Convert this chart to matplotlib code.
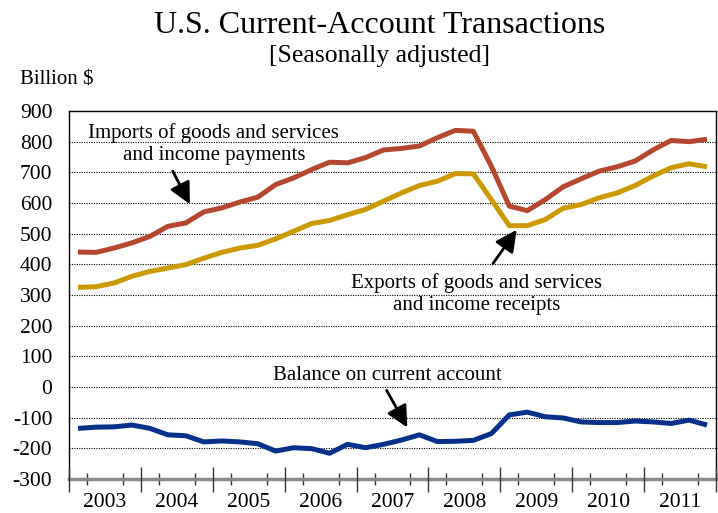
import matplotlib
matplotlib.use('Agg')
import matplotlib.pyplot as plt
import matplotlib.transforms as mtransforms

# Quarterly data, 2003 Q1 - 2011 Q4, billions of dollars
years = ['2003', '2004', '2005', '2006', '2007', '2008', '2009', '2010', '2011']
imports = [440, 439, 453, 470, 491, 524, 535, 571, 584, 603, 619, 660,
           682, 709, 733, 731, 748, 773, 778, 786, 813, 837, 834, 720,
           590, 575, 611, 653, 679, 704, 718, 737, 773, 804, 800, 808]
exports = [325, 327, 339, 361, 377, 388, 399, 420, 439, 453, 462, 483,
           508, 533, 543, 562, 579, 606, 633, 657, 671, 696, 695, 611,
           526, 526, 546, 583, 595, 617, 633, 657, 688, 715, 728, 718]
balance = [-135, -131, -130, -124, -135, -156, -159, -179, -176, -179, -185, -209,
           -198, -201, -216, -187, -198, -187, -173, -156, -178, -177, -174, -152,
           -91, -82, -97, -101, -114, -116, -116, -111, -114, -119, -108, -124]

plt.rcParams['font.family'] = ['Liberation Serif', 'DejaVu Serif']
plt.rcParams['axes.unicode_minus'] = False

fig = plt.figure(figsize=(7.18, 5.13), dpi=100)
ax = fig.add_axes([0.0961, 0.0663, 0.9011, 0.7173])

x = list(range(len(imports)))
ax.plot(x, imports, color='#B5472E', lw=3.6, solid_capstyle='butt', zorder=3)
ax.plot(x, exports, color='#CC9900', lw=3.6, solid_capstyle='butt', zorder=3)
ax.plot(x, balance, color='#06318A', lw=3.6, solid_capstyle='butt', zorder=3)

ax.set_xlim(-0.5, len(x) - 0.5)
ax.set_ylim(-300, 900)
ax.set_yticks(range(-300, 901, 100))
ax.tick_params(axis='y', length=0, pad=12, labelsize=15.5)
for v in range(-200, 801, 100):
    ax.axhline(v, color='black', lw=0.8, ls=(0, (1, 1.2)), zorder=1)

# x axis: quarter ticks, year boundary ticks, year labels
n_years = len(years)
ax.set_xticks([4 * k + 1.5 for k in range(n_years)])
ax.set_xticklabels(years)
ax.tick_params(axis='x', length=0, pad=10, labelsize=15.5)
ax.set_xticks([q - 0.5 for q in range(len(x) + 1) if q % 4 != 0], minor=True)
ax.tick_params(axis='x', which='minor', direction='inout', length=9,
               width=1, color='#333333')
trans = mtransforms.blended_transform_factory(ax.transData, ax.transAxes)
ax.vlines([4 * k - 0.5 for k in range(n_years + 1)], -0.036, 0.033,
          transform=trans, color='#333333', lw=1, clip_on=False, zorder=4)

for side in ['left', 'right', 'top']:
    ax.spines[side].set_color('black')
    ax.spines[side].set_linewidth(1)
ax.spines['bottom'].set_color('#8a8a8a')
ax.spines['bottom'].set_linewidth(2.5)

# titles
fig.text(0.529, 0.935, 'U.S. Current-Account Transactions', ha='center',
         va='baseline', fontsize=23)
fig.text(0.529, 0.88, '[Seasonally adjusted]', ha='center',
         va='baseline', fontsize=18.5)
fig.text(0.028, 0.835, 'Billion $', ha='left', va='baseline', fontsize=15)

# annotations
head = '-|>,head_length=1.3,head_width=0.65'
ax.text(7.56, 791, 'Imports of goods and services\nand income payments',
        ha='center', va='center', fontsize=15, linespacing=1.2)
ax.annotate('', xy=(6.3, 588), xytext=(5.2, 712),
            arrowprops=dict(arrowstyle=head, color='black', lw=2))
ax.text(22.2, 303, 'Exports of goods and services\nand income receipts',
        ha='center', va='center', fontsize=15, linespacing=1.2)
ax.annotate('', xy=(24.5, 520), xytext=(23.0, 395),
            arrowprops=dict(arrowstyle=head, color='black', lw=2))
ax.text(17.2, 36, 'Balance on current account', ha='center', va='center',
        fontsize=15)
ax.annotate('', xy=(18.4, -140), xytext=(17.1, -3),
            arrowprops=dict(arrowstyle=head, color='black', lw=2))

fig.savefig('out.png', dpi=100)
